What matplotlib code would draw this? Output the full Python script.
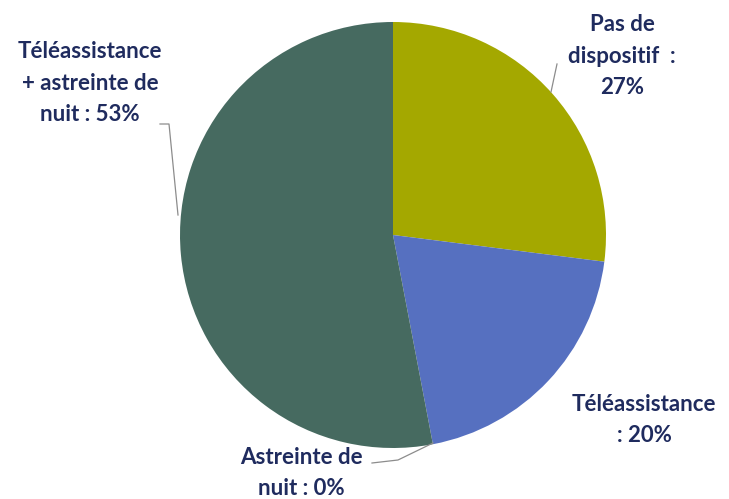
import numpy as np
import matplotlib
matplotlib.use("Agg")
import matplotlib.pyplot as plt

plt.rcParams['font.family'] = ['Lato', 'DejaVu Sans']

# données
labels = ["Pas de\ndispositif  :\n27%", "Téléassistance\n: 20%",
          "Astreinte de\nnuit : 0%", "Téléassistance\n+ astreinte de\nnuit : 53%"]
values = [27, 20, 0, 53]
colors = ["#A4A800", "#5670C0", "#A8A8A8", "#466A60"]
text_color = "#1F2B5E"

H = 499
fig = plt.figure(figsize=(7.29, 4.99), dpi=100)
ax = fig.add_axes([0, 0, 1, 1])
ax.pie(values, colors=colors, startangle=90, counterclock=False,
       center=(393, H - 235), radius=213,
       wedgeprops=dict(linewidth=0))
ax.set_xlim(0, 729)
ax.set_ylim(0, H)
ax.set_aspect("equal")
ax.axis("off")

# étiquettes
pos = [(622, H - 56), (644, H - 420), (301, H - 473), (90, H - 83)]
for lab, (x, y) in zip(labels, pos):
    ax.text(x, y, lab, ha="center", va="center", fontsize=16,
            fontweight="bold", color=text_color, linespacing=1.62)

# lignes de rappel
ax.plot([557, 551], [H - 64, H - 92], color="#8C8C8C", lw=0.9)
ax.plot([160, 169, 178], [H - 124, H - 124, H - 215], color="#8C8C8C", lw=0.9)
ax.plot([372, 398, 433], [H - 463, H - 460, H - 443], color="#8C8C8C", lw=0.9)

fig.savefig("out.png", dpi=100)
